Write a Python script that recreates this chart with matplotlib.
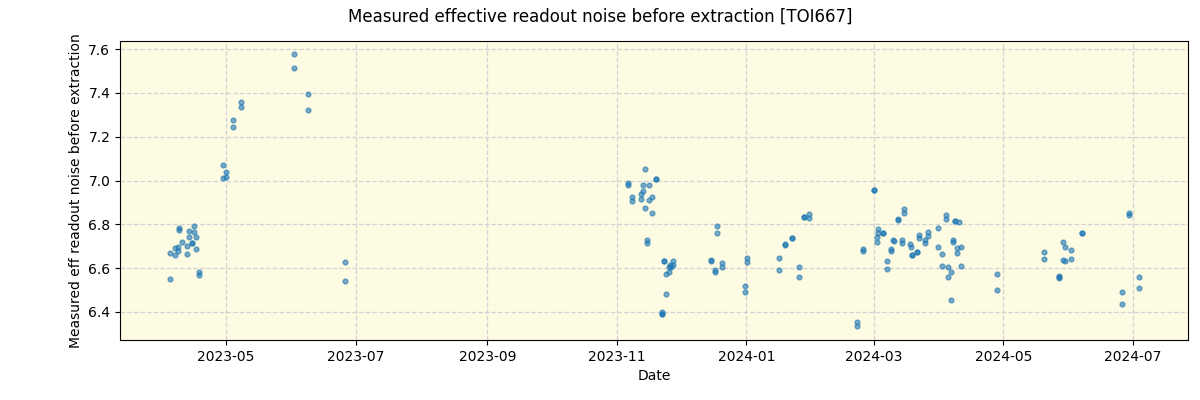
import matplotlib
matplotlib.use('Agg')
import matplotlib.pyplot as plt
import matplotlib.dates as mdates
import pandas as pd

# Data
dates = [
    # spring 2023
    '2023-04-04 08:00', '2023-04-04 08:00', '2023-04-07 02:00', '2023-04-07 02:00',
    '2023-04-08 02:00', '2023-04-08 02:00', '2023-04-09 00:00', '2023-04-09 00:00',
    '2023-04-10 00:00', '2023-04-12 08:00', '2023-04-12 08:00', '2023-04-13 08:00',
    '2023-04-13 08:00', '2023-04-15 02:00', '2023-04-15 02:00', '2023-04-16 02:00',
    '2023-04-16 02:00', '2023-04-17 00:00', '2023-04-17 00:00', '2023-04-18 10:00',
    '2023-04-18 10:00',
    '2023-04-29 08:00', '2023-04-29 08:00', '2023-05-01 02:00', '2023-05-01 02:00',
    '2023-05-04 00:00', '2023-05-04 00:00', '2023-05-08 04:00', '2023-05-08 04:00',
    '2023-06-02 00:00', '2023-06-02 00:00', '2023-06-08 08:00', '2023-06-08 08:00',
    '2023-06-26 04:00', '2023-06-26 04:00',
    # November 2023
    '2023-11-06 10:00', '2023-11-06 10:00', '2023-11-08 08:00', '2023-11-08 08:00',
    '2023-11-12 12:00', '2023-11-12 12:00', '2023-11-13 12:00', '2023-11-13 12:00',
    '2023-11-14 10:00', '2023-11-14 10:00', '2023-11-15 10:00', '2023-11-15 10:00',
    '2023-11-16 08:00', '2023-11-16 08:00', '2023-11-17 08:00', '2023-11-17 08:00',
    '2023-11-19 14:00', '2023-11-19 14:00',
    '2023-11-22 10:00', '2023-11-22 10:00', '2023-11-22 10:00', '2023-11-23 10:00',
    '2023-11-23 10:00', '2023-11-24 08:00', '2023-11-24 08:00', '2023-11-25 08:00',
    '2023-11-25 08:00', '2023-11-26 06:00', '2023-11-26 16:00', '2023-11-27 14:00',
    '2023-11-27 14:00',
    # December 2023 / January 2024
    '2023-12-15 12:00', '2023-12-15 12:00', '2023-12-17 10:00', '2023-12-17 10:00',
    '2023-12-18 08:00', '2023-12-18 08:00', '2023-12-20 16:00', '2023-12-20 16:00',
    '2023-12-31 12:00', '2023-12-31 12:00', '2024-01-01 10:00', '2024-01-01 10:00',
    '2024-01-16 12:00', '2024-01-16 12:00', '2024-01-19 08:00', '2024-01-19 08:00',
    '2024-01-22 14:00', '2024-01-22 14:00', '2024-01-26 00:00', '2024-01-26 00:00',
    '2024-01-28 08:00', '2024-01-28 08:00', '2024-01-30 14:00', '2024-01-30 14:00',
    # February - April 2024
    '2024-02-22 04:00', '2024-02-22 04:00', '2024-02-25 00:00', '2024-02-25 00:00',
    '2024-03-01 04:00', '2024-03-01 04:00',
    '2024-03-02 16:00', '2024-03-02 16:00', '2024-03-03 02:00', '2024-03-03 02:00',
    '2024-03-05 12:00', '2024-03-05 12:00', '2024-03-07 08:00', '2024-03-07 08:00',
    '2024-03-09 04:00', '2024-03-09 04:00', '2024-03-10 04:00', '2024-03-10 14:00',
    '2024-03-12 12:00', '2024-03-12 12:00', '2024-03-14 10:00', '2024-03-14 10:00',
    '2024-03-15 08:00', '2024-03-15 08:00', '2024-03-18 04:00', '2024-03-18 14:00',
    '2024-03-19 02:00', '2024-03-19 02:00', '2024-03-21 12:00', '2024-03-21 12:00',
    '2024-03-22 10:00', '2024-03-22 10:00', '2024-03-25 04:00', '2024-03-25 04:00',
    '2024-03-26 14:00', '2024-03-26 14:00', '2024-03-31 10:00', '2024-03-31 10:00',
    '2024-04-02 04:00', '2024-04-02 04:00', '2024-04-04 02:00', '2024-04-04 02:00',
    '2024-04-05 02:00', '2024-04-05 02:00', '2024-04-06 12:00', '2024-04-06 12:00',
    '2024-04-07 10:00', '2024-04-07 10:00', '2024-04-08 08:00', '2024-04-08 08:00',
    '2024-04-10 04:00', '2024-04-09 08:00', '2024-04-09 08:00', '2024-04-11 02:00',
    '2024-04-11 02:00',
    '2024-04-28 02:00', '2024-04-28 02:00',
    # May - July 2024
    '2024-05-20 08:00', '2024-05-20 08:00', '2024-05-27 08:00', '2024-05-27 08:00',
    '2024-05-27 08:00', '2024-05-29 04:00', '2024-05-30 02:00', '2024-05-29 04:00',
    '2024-05-30 02:00', '2024-06-02 00:00', '2024-06-02 00:00', '2024-06-07 04:00',
    '2024-06-07 04:00', '2024-06-26 00:00', '2024-06-26 00:00', '2024-06-29 08:00',
    '2024-06-29 08:00', '2024-07-04 00:00', '2024-07-04 00:00',
]
noise = [
    6.549, 6.668, 6.691, 6.659,
    6.695, 6.677, 6.782, 6.773,
    6.718, 6.700, 6.663, 6.768,
    6.741, 6.714, 6.714, 6.791,
    6.764, 6.741, 6.686, 6.581,
    6.568,
    7.069, 7.010, 7.037, 7.015,
    7.275, 7.243, 7.357, 7.334,
    7.576, 7.512, 7.393, 7.320,
    6.627, 6.540,
    6.990, 6.978, 6.923, 6.905,
    6.937, 6.914, 6.978, 6.951,
    7.051, 6.873, 6.727, 6.714,
    6.978, 6.910, 6.923, 6.850,
    7.008, 7.005,
    6.399, 6.390, 6.392, 6.631,
    6.633, 6.572, 6.481, 6.604,
    6.581, 6.613, 6.604, 6.631,
    6.613,
    6.636, 6.634, 6.590, 6.581,
    6.791, 6.759, 6.622, 6.604,
    6.517, 6.490, 6.645, 6.627,
    6.645, 6.590, 6.709, 6.707,
    6.739, 6.737, 6.604, 6.558,
    6.835, 6.833, 6.846, 6.828,
    6.353, 6.335, 6.686, 6.677,
    6.957, 6.959,
    6.741, 6.718, 6.777, 6.762,
    6.762, 6.760, 6.631, 6.595,
    6.686, 6.677, 6.727, 6.723,
    6.821, 6.823, 6.727, 6.714,
    6.869, 6.850, 6.709, 6.695,
    6.660, 6.662, 6.675, 6.673,
    6.750, 6.736, 6.727, 6.714,
    6.764, 6.745, 6.782, 6.695,
    6.663, 6.609, 6.841, 6.823,
    6.604, 6.558, 6.581, 6.454,
    6.727, 6.718, 6.817, 6.815,
    6.809, 6.691, 6.668, 6.695,
    6.609,
    6.572, 6.499,
    6.673, 6.641, 6.563, 6.554,
    6.560, 6.718, 6.695, 6.636,
    6.631, 6.682, 6.641, 6.762,
    6.760, 6.490, 6.435, 6.850,
    6.841, 6.558, 6.508,
]

x = pd.to_datetime(dates)

fig, ax = plt.subplots(figsize=(12, 4), dpi=100)
fig.subplots_adjust(left=0.1, right=0.99, top=0.8975, bottom=0.15)

ax.set_facecolor('#fdfbe1')
ax.scatter(x, noise, s=12, color='tab:blue', alpha=0.6, zorder=3)

ax.grid(True, linestyle='--', color='lightgray', linewidth=0.9)
ax.set_axisbelow(True)

ax.set_xlim(pd.Timestamp('2023-03-12'), pd.Timestamp('2024-07-27'))
ax.set_ylim(6.272, 7.637)
ax.xaxis.set_major_locator(mdates.MonthLocator(bymonth=[1, 3, 5, 7, 9, 11]))
ax.xaxis.set_major_formatter(mdates.DateFormatter('%Y-%m'))

ax.set_xlabel('Date')
ax.set_ylabel('Measured eff readout noise before extraction')
fig.suptitle('Measured effective readout noise before extraction [TOI667]')

plt.savefig('out.png')
